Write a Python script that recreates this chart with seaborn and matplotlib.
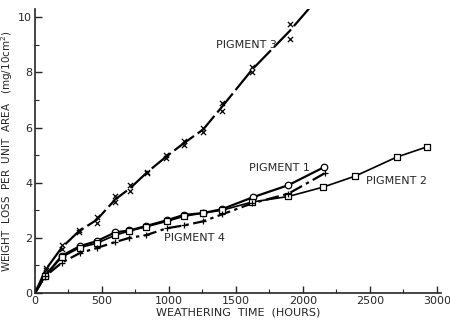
import matplotlib
matplotlib.use("Agg")
import matplotlib.pyplot as plt
import seaborn as sns
import numpy as np
import pandas as pd
from matplotlib.ticker import MultipleLocator

# ---- data ----
p3_t = [80, 200, 330, 460, 600, 710, 835, 980, 1110, 1255, 1395, 1620, 1900]
p3_a = [0.83, 1.6, 2.2, 2.55, 3.3, 3.7, 4.35, 4.9, 5.35, 5.85, 6.6, 8.0, 9.2]
p3_b = [0.9, 1.75, 2.3, 2.75, 3.5, 3.9, 4.4, 5.0, 5.5, 6.0, 6.9, 8.2, 9.75]
p3_line_t = [0, 80, 200, 330, 460, 600, 710, 835, 980, 1110, 1255, 1395, 1620, 1900, 2060]
p3_line_y = [0, 0.85, 1.65, 2.25, 2.65, 3.4, 3.8, 4.37, 4.95, 5.43, 5.93, 6.75, 8.1, 9.5, 10.4]

p1_t = [75, 200, 335, 460, 600, 705, 830, 985, 1110, 1255, 1395, 1630, 1890, 2160]
p1_y = [0.62, 1.35, 1.7, 1.88, 2.2, 2.27, 2.43, 2.64, 2.83, 2.9, 3.04, 3.48, 3.91, 4.57]

p2_t = [75, 200, 335, 460, 600, 705, 830, 985, 1110, 1255, 1395, 1620, 1890, 2150, 2390, 2700, 2925]
p2_y = [0.62, 1.3, 1.65, 1.8, 2.1, 2.25, 2.4, 2.6, 2.78, 2.9, 3.0, 3.3, 3.5, 3.84, 4.24, 4.93, 5.3]

p4_t = [75, 200, 335, 460, 600, 705, 830, 985, 1110, 1255, 1395, 1620, 1890, 2165]
p4_y = [0.6, 1.1, 1.45, 1.63, 1.85, 2.0, 2.1, 2.35, 2.45, 2.6, 2.85, 3.25, 3.6, 4.35]

labels = ["PIGMENT 3", "PIGMENT 1", "PIGMENT 2", "PIGMENT 4"]

sns.set_style("ticks")
plt.rcParams['font.family'] = ['DejaVu Sans']

fig = plt.figure(figsize=(4.5, 3.25), dpi=100)
ax = fig.add_axes([35/450, 32/325, 406/450, 284/325])

lw = 1.6
sns.lineplot(x=p3_line_t, y=p3_line_y, ax=ax, color="black", lw=lw)
ax.lines[-1].set_dashes([11, 2])
sns.lineplot(x=[0] + p1_t, y=[0] + p1_y, ax=ax, color="black", lw=lw)
sns.lineplot(x=[0] + p2_t + [2950], y=[0] + p2_y + [5.35], ax=ax, color="black", lw=1.2)
sns.lineplot(x=[0] + p4_t, y=[0] + p4_y, ax=ax, color="black", lw=lw)
ax.lines[-1].set_dashes([6, 2, 1.5, 2])

sns.scatterplot(x=p3_t, y=p3_a, ax=ax, marker="x", color="black", s=14, linewidth=0.9, zorder=5)
sns.scatterplot(x=p3_t, y=p3_b, ax=ax, marker="x", color="black", s=14, linewidth=0.9, zorder=5)
sns.scatterplot(x=p1_t, y=p1_y, ax=ax, marker="o", facecolor="white", edgecolor="black", s=22, linewidth=0.9, zorder=6)
sns.scatterplot(x=p2_t, y=p2_y, ax=ax, marker="s", facecolor="white", edgecolor="black", s=18, linewidth=0.9, zorder=6)
sns.scatterplot(x=p4_t, y=p4_y, ax=ax, marker="+", color="black", s=22, linewidth=0.9, zorder=7)

ax.set_xlim(0, 3030)
ax.set_ylim(0, 10.3)
ax.xaxis.set_major_locator(MultipleLocator(500))
ax.xaxis.set_minor_locator(MultipleLocator(250))
ax.yaxis.set_major_locator(MultipleLocator(2))
ax.yaxis.set_minor_locator(MultipleLocator(1))
ax.tick_params(which="major", direction="in", length=5, width=1, labelsize=8, pad=2)
ax.tick_params(which="minor", direction="in", length=3, width=0.8)
for s in ["top", "right"]:
    ax.spines[s].set_visible(False)
for s in ["left", "bottom"]:
    ax.spines[s].set_linewidth(1.2)

ax.set_xlabel("WEATHERING  TIME  (HOURS)", fontsize=8, labelpad=1)
ax.set_ylabel("WEIGHT  LOSS  PER  UNIT  AREA   (mg/10cm$^2$)", fontsize=7.5, labelpad=2)

fs = 8
ax.text(1350, 9.0, labels[0], fontsize=fs, ha="left", va="center")
ax.text(1600, 4.55, labels[1], fontsize=fs, ha="left", va="center")
ax.text(2470, 4.05, labels[2], fontsize=fs, ha="left", va="center")
ax.text(960, 1.98, labels[3], fontsize=fs, ha="left", va="center")

fig.savefig("out.png", dpi=100)
